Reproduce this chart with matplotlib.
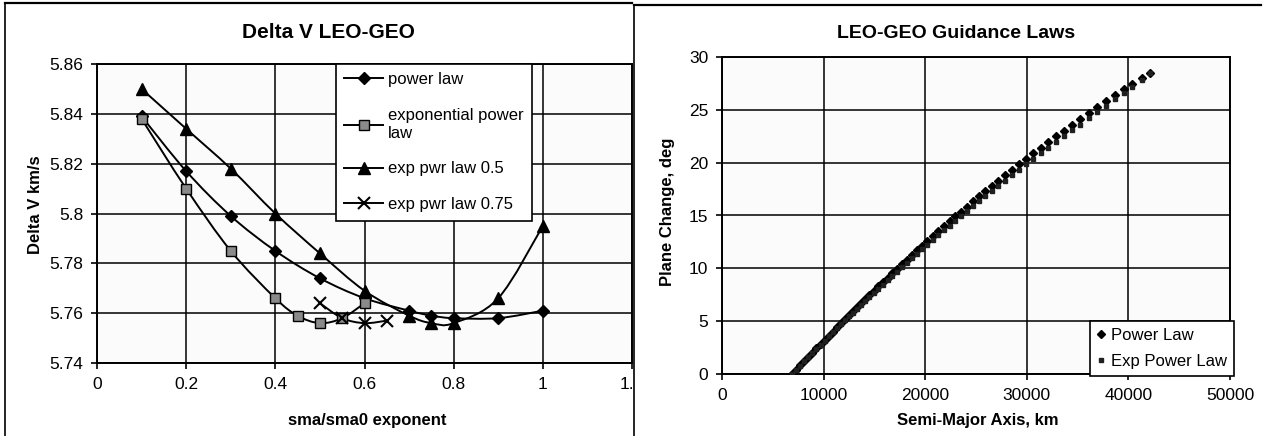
import numpy as np
import matplotlib
matplotlib.use("Agg")
import matplotlib.pyplot as plt
from matplotlib.path import Path
from matplotlib.patches import PathPatch, Rectangle
from matplotlib.lines import Line2D

plt.rcParams["font.family"] = ["Liberation Sans", "DejaVu Sans"]

# ---- left chart: Delta V vs exponent ----
pl_x = [0.1, 0.2, 0.3, 0.4, 0.5, 0.6, 0.7, 0.75, 0.8, 0.9, 1.0]
pl_y = [5.839, 5.817, 5.799, 5.785, 5.774, 5.766, 5.761, 5.759, 5.758, 5.758, 5.761]

epl_x = [0.1, 0.2, 0.3, 0.4, 0.45, 0.5, 0.55, 0.6]
epl_y = [5.838, 5.810, 5.785, 5.766, 5.759, 5.756, 5.758, 5.764]

ep05_x = [0.1, 0.2, 0.3, 0.4, 0.5, 0.6, 0.7, 0.75, 0.8, 0.9, 1.0]
ep05_y = [5.850, 5.834, 5.818, 5.800, 5.784, 5.769, 5.759, 5.756, 5.756, 5.766, 5.795]

ep075_x = [0.5, 0.55, 0.6, 0.65]
ep075_y = [5.764, 5.758, 5.756, 5.757]

left_labels = ["power law", "exponential power\nlaw", "exp pwr law 0.5", "exp pwr law 0.75"]

# ---- right chart: plane change vs semi-major axis ----
sma_km = [6900, 7300, 7700, 8100, 8500, 8900, 9300, 9700, 10100, 10500, 10900,
          11300, 11700, 12100, 12500, 12900, 13300, 13700, 14100, 14500, 14950,
          15400, 15850, 16300, 16750, 17200, 17700, 18200, 18700, 19200, 19700,
          20200, 20750, 21300, 21850, 22400, 22950, 23500, 24100, 24700, 25300,
          25900, 26550, 27200, 27850, 28500, 29200, 29900, 30600, 31350, 32100,
          32850, 33650, 34450, 35250, 36100, 36950, 37800, 38700, 39600, 40400,
          41300, 42164]
power_deg = [0.00, 0.41, 0.82, 1.23, 1.63, 2.03, 2.44, 2.83, 3.23, 3.63, 4.02,
             4.41, 4.80, 5.19, 5.57, 5.95, 6.33, 6.71, 7.09, 7.46, 7.88,
             8.30, 8.71, 9.13, 9.53, 9.94, 10.39, 10.83, 11.28, 11.72, 12.15,
             12.59, 13.06, 13.53, 13.99, 14.45, 14.91, 15.36, 15.85, 16.34, 16.82,
             17.30, 17.81, 18.31, 18.81, 19.31, 19.84, 20.36, 20.87, 21.42, 21.96,
             22.49, 23.04, 23.59, 24.14, 24.70, 25.26, 25.81, 26.38, 26.94, 27.44,
             27.98, 28.49]
exp_deg = [0.00, 0.40, 0.80, 1.20, 1.60, 1.99, 2.39, 2.77, 3.16, 3.55, 3.93,
           4.31, 4.69, 5.08, 5.45, 5.82, 6.18, 6.55, 6.91, 7.26, 7.66,
           8.06, 8.46, 8.86, 9.25, 9.64, 10.08, 10.51, 10.95, 11.38, 11.80,
           12.23, 12.69, 13.15, 13.59, 14.04, 14.49, 14.93, 15.41, 15.89, 16.36,
           16.83, 17.33, 17.81, 18.30, 18.80, 19.32, 19.83, 20.33, 20.87, 21.41,
           21.94, 22.49, 23.05, 23.61, 24.20, 24.79, 25.36, 25.98, 26.59, 27.19,
           27.86, 28.49]


def smooth_path(x, y):
    # Excel-style smoothed line: cubic bezier through every point
    p = np.column_stack([x, y]).astype(float)
    n = len(p)
    verts = [p[0]]
    codes = [Path.MOVETO]
    for i in range(n - 1):
        p0 = p[i - 1] if i > 0 else p[i]
        p3 = p[i + 2] if i + 2 < n else p[i + 1]
        c1 = p[i] + (p[i + 1] - p0) / 6.0
        c2 = p[i + 1] - (p3 - p[i]) / 6.0
        verts += [c1, c2, p[i + 1]]
        codes += [Path.CURVE4] * 3
    return Path(verts, codes)


W, H = 1263, 436
fig = plt.figure(figsize=(W / 100, H / 100), dpi=100)
fig.patch.set_facecolor("white")


def fx(px):
    return px / W


def fy(py):
    return 1 - py / H


def style_axes(ax):
    ax.grid(True, color="black", linewidth=1.1)
    ax.set_axisbelow(True)
    for s in ax.spines.values():
        s.set_linewidth(1.4)
    ax.tick_params(direction="out", length=4, width=1.2, labelsize=12.5, pad=6)
    ax.set_facecolor("#fbfbfb")


# left panel
axL = fig.add_axes([fx(97), fy(363), fx(632 - 97), (363 - 64) / H])
style_axes(axL)
axL.set_xlim(0, 1.2)
axL.set_ylim(5.74, 5.86)
axL.set_xticks(np.arange(0, 1.21, 0.2))
axL.set_xticklabels(["0", "0.2", "0.4", "0.6", "0.8", "1", "1.2"])
axL.set_yticks(np.arange(5.74, 5.861, 0.02))
axL.set_yticklabels(["5.74", "5.76", "5.78", "5.8", "5.82", "5.84", "5.86"])

series = [
    (pl_x, pl_y, dict(marker="D", ms=6, mfc="black", mec="black")),
    (epl_x, epl_y, dict(marker="s", ms=7.5, mfc="#8a8a8a", mec="black", mew=1.0)),
    (ep05_x, ep05_y, dict(marker="^", ms=8, mfc="black", mec="black")),
    (ep075_x, ep075_y, dict(marker="x", ms=9, mfc="black", mec="black", mew=1.5)),
]
handles = []
for (sx, sy, mk), lab in zip(series, left_labels):
    axL.add_patch(PathPatch(smooth_path(sx, sy), fill=False, edgecolor="black",
                            linewidth=1.4, zorder=3))
    axL.plot(sx, sy, linestyle="none", zorder=4, **mk)
    handles.append(Line2D([], [], color="black", linewidth=1.4, label=lab, **mk))

legL = axL.legend(handles=handles, loc="upper left", bbox_to_anchor=(0.447, 1.0),
                  frameon=True, fancybox=False, edgecolor="black", framealpha=1,
                  fontsize=12, handlelength=2.3, labelspacing=1.25,
                  borderaxespad=0, borderpad=0.5, handletextpad=0.3)
legL.get_frame().set_linewidth(1.2)
legL.set_zorder(6)

fig.text(fx(328), fy(32), "Delta V LEO-GEO", ha="center", va="center",
         fontsize=15, fontweight="bold")
fig.text(fx(367), fy(420), "sma/sma0 exponent", ha="center", va="center",
         fontsize=12, fontweight="bold")
fig.text(fx(35), fy(205), "Delta V km/s", ha="center", va="center",
         fontsize=12, fontweight="bold", rotation=90)

# right panel background covers the overflow of the left plot area
fig.add_artist(Rectangle((fx(634), 0), 1 - fx(634), fy(4), transform=fig.transFigure,
                         facecolor="white", edgecolor="none", zorder=0.5))

axR = fig.add_axes([fx(722), fy(374), fx(1230 - 722), (374 - 57) / H])
axR.set_zorder(1)
style_axes(axR)
axR.set_xlim(0, 50000)
axR.set_ylim(0, 30)
axR.set_xticks(np.arange(0, 50001, 10000))
axR.set_yticks(np.arange(0, 31, 5))

axR.plot(sma_km, power_deg, linestyle="none", marker="D", ms=4, color="black",
         label="Power Law", zorder=4)
axR.plot(sma_km, exp_deg, linestyle="none", marker="s", ms=3, color="#202020",
         label="Exp Power Law", zorder=4)
legR = axR.legend(loc="lower right", bbox_to_anchor=(1.008, -0.006), frameon=True,
                  fancybox=False, edgecolor="black", framealpha=1, fontsize=12,
                  handlelength=0.6, handletextpad=0.3, borderaxespad=0,
                  labelspacing=0.7, borderpad=0.4)
legR.get_frame().set_linewidth(1.2)

fig.text(fx(956), fy(33), "LEO-GEO Guidance Laws", ha="center", va="center",
         fontsize=14, fontweight="bold")
fig.text(fx(978), fy(420), "Semi-Major Axis, km", ha="center", va="center",
         fontsize=12, fontweight="bold")
fig.text(fx(668), fy(212), "Plane Change, deg", ha="center", va="center",
         fontsize=12, fontweight="bold", rotation=90)

# chart frames
for x0, x1, ytop in [(5, 632, 3), (634, 1261, 5)]:
    fig.add_artist(Line2D([fx(x0), fx(x0)], [0, fy(ytop)], transform=fig.transFigure,
                          color="black", linewidth=1.2, zorder=2))
    fig.add_artist(Line2D([fx(x0), fx(x1)], [fy(ytop), fy(ytop)],
                          transform=fig.transFigure, color="black", linewidth=1.6, zorder=2))

fig.savefig("out.png", dpi=100)
